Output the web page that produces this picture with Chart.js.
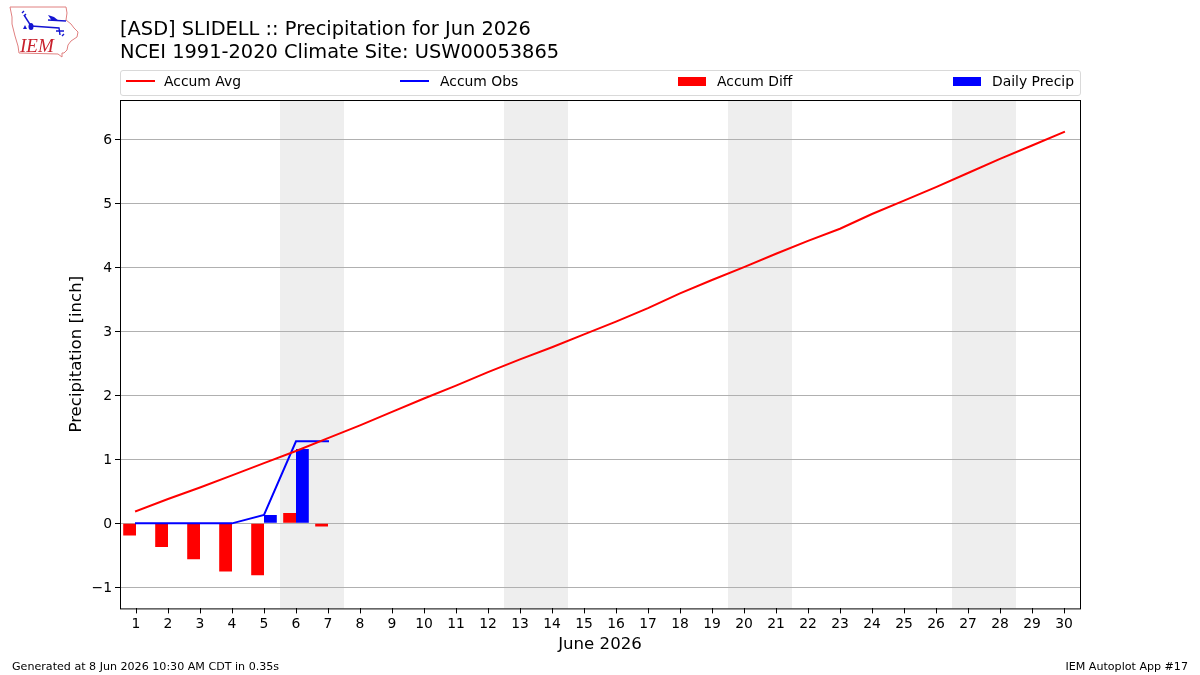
<!DOCTYPE html>
<html>
<head>
<meta charset="utf-8">
<title>Precipitation for Jun 2026</title>
<script src="https://cdn.jsdelivr.net/npm/chart.js@4"></script>
<style>
    html, body { margin: 0; padding: 0; background: #fff; }
    body { width: 1200px; height: 675px; position: relative; overflow: hidden; font-family: "DejaVu Sans", sans-serif; color: #000; }
    #chartBox { position: absolute; left: 0; top: 0; width: 1200px; height: 675px; }
    #logo { position: absolute; left: 0; top: 0; }
    #legendBox { position: absolute; left: 120px; top: 70px; width: 959px; height: 24px; border: 1px solid #d9d9d9; border-radius: 3px; font-size: 13.9px; }
    .key { position: absolute; }
    .label { position: absolute; top: 2px; line-height: 17px; white-space: nowrap; color: #000; }
    .foot { position: absolute; top: 660px; font-size: 11.1px; line-height: 13px; white-space: nowrap; }
</style>
</head>
<body>
<div id="chartBox"><canvas id="precipChart" width="1200" height="675"></canvas></div>

<svg id="logo" width="90" height="62" viewBox="0 0 90 62">
    <path d="M10 7 L66 7 L67 13 L66 20 L71 24 L74 28 L78 32 L77 37 L71 41 L68 45 L67 50 L64 53 L62 53 L62 57 L58 54 L19 53 L18 46 L15 36 L12 24 L12 17 Z" fill="none" stroke="#e08080" stroke-width="1"/>
    <g fill="none" stroke="#1414d2" stroke-width="1.400">
        <path d="M31 26 L59 28 L60 35"/>
        <path d="M48 20 L66 21"/>
        <path d="M24 15 L31 26"/>
        <path d="M22 13 L24 11 M24 16 L26 14"/>
        <path d="M56 31 L64 31 M62 36 L64 34"/>
    </g>
    <ellipse cx="31" cy="26.500" rx="2.500" ry="3.500" fill="#1414d2"/>
    <path d="M48 15 L54 17 L59 21 L52 21 Z" fill="#1414d2"/>
    <path d="M23 29 L25 25 L27 29 Z" fill="#1414d2"/>
    <text x="20" y="52" font-family="Liberation Serif" font-style="italic" font-size="19" fill="#c8202c">IEM</text>
</svg>

<div id="legendBox"></div>
<div class="foot" style="left:12px">Generated at 8 Jun 2026 10:30 AM CDT in 0.35s</div>
<div class="foot" style="right:12px">IEM Autoplot App #17</div>

<script>
const days = ["1", "2", "3", "4", "5", "6", "7", "8", "9", "10", "11", "12", "13", "14", "15",
    "16", "17", "18", "19", "20", "21", "22", "23", "24", "25", "26", "27", "28", "29", "30"];
const accumAvg = [0.19, 0.38, 0.56, 0.75, 0.94, 1.13, 1.33, 1.53, 1.74, 1.95, 2.15, 2.36, 2.56, 2.75, 2.95,
    3.15, 3.36, 3.59, 3.80, 4.00, 4.21, 4.41, 4.60, 4.83, 5.04, 5.25, 5.47, 5.69, 5.90, 6.11];
const accumObs = [0, 0, 0, 0, 0.13, 1.28, 1.28];
const accumDiff = [-0.19, -0.37, -0.56, -0.75, -0.81, 0.16, -0.05];
const dailyPrecip = [0, 0, 0, 0, 0.13, 1.16, 0];
const weekendDays = ["6", "7", "13", "14", "20", "21", "27", "28"];
const yTicks = [-1, 0, 1, 2, 3, 4, 5, 6];
const titleLines = ["[ASD] SLIDELL :: Precipitation for Jun 2026", "NCEI 1991-2020 Climate Site: USW00053865"];

Chart.defaults.font.family = '"DejaVu Sans", sans-serif';
Chart.defaults.color = "#000";

// weekend bands go under the grid, the frame goes over everything
const bandsAndFrame = {
    id: "bandsAndFrame",
    beforeDraw(chart) {
        const { ctx, chartArea, scales } = chart;
        const half = (scales.x.getPixelForValue(1) - scales.x.getPixelForValue(0)) / 2;
        ctx.save();
        ctx.fillStyle = "#eeeeee";
        weekendDays.forEach(d => {
            const center = scales.x.getPixelForValue(days.indexOf(d));
            ctx.fillRect(center - half, chartArea.top, half * 2, chartArea.height);
        });
        ctx.restore();
    },
    afterDraw(chart) {
        const { ctx, chartArea } = chart;
        ctx.save();
        ctx.strokeStyle = "#000";
        ctx.lineWidth = 1;
        ctx.strokeRect(chartArea.left + 0.5, chartArea.top + 0.5, chartArea.width, chartArea.height);
        ctx.restore();
    }
};

const chart = new Chart(document.getElementById("precipChart"), {
    type: "bar",
    data: {
        labels: days,
        datasets: [
            { type: "line", label: "Accum Avg", data: accumAvg, borderColor: "#ff0000", borderWidth: 2, borderCapStyle: "square", pointRadius: 0, tension: 0, order: 1 },
            { type: "line", label: "Accum Obs", data: accumObs, borderColor: "#0000ff", borderWidth: 2, borderCapStyle: "square", pointRadius: 0, tension: 0, order: 2 },
            { label: "Accum Diff", data: accumDiff, backgroundColor: "#ff0000", order: 3 },
            { label: "Daily Precip", data: dailyPrecip, backgroundColor: "#0000ff", order: 4 }
        ]
    },
    options: {
        responsive: false,
        animation: false,
        layout: { padding: { left: 67, right: 120, top: 0, bottom: 19 } },
        datasets: { bar: { categoryPercentage: 0.8, barPercentage: 1 } },
        plugins: {
            legend: { display: false },
            tooltip: { enabled: false },
            title: {
                display: true,
                text: titleLines,
                align: "start",
                fullSize: false,
                font: { size: 19.4, weight: "normal", lineHeight: 1.16 },
                padding: { top: 19, bottom: 36 }
            }
        },
        scales: {
            x: {
                offset: true,
                afterFit(axis) { axis.height -= 1; },
                title: { display: true, text: "June 2026", font: { size: 16.6 }, padding: { top: 0, bottom: 1 } },
                grid: { offset: false, drawOnChartArea: false, drawTicks: true, tickLength: 5, tickColor: "#000" },
                border: { display: false },
                ticks: { autoSkip: false, maxRotation: 0, font: { size: 13.9 }, padding: 3 }
            },
            y: {
                min: -1.328,
                max: 6.61,
                afterBuildTicks(axis) { axis.ticks = yTicks.map(v => ({ value: v })); },
                afterFit(axis) { axis.width = 53; },
                title: { display: true, text: "Precipitation [inch]", font: { size: 16.6 }, padding: { top: 0, bottom: 4 } },
                grid: { color: "#b0b0b0", lineWidth: 1, tickLength: 5, tickColor: "#000" },
                border: { display: false },
                ticks: { font: { size: 13.9 }, padding: 3, labelOffset: 1, callback: v => (v < 0 ? "\u2212" + Math.abs(v) : String(v)) }
            }
        }
    },
    plugins: [bandsAndFrame]
});

// horizontal legend spread over the full plot width
const legendSlots = [
    { left: 5, text: 43 },
    { left: 279, text: 319 },
    { left: 557, text: 596 },
    { left: 832, text: 871 }
];
const legendBox = document.getElementById("legendBox");
chart.data.datasets.forEach((ds, i) => {
    const key = document.createElement("div");
    key.className = "key";
    key.style.left = legendSlots[i].left + "px";
    if (ds.type === "line") {
        key.style.width = "29px";
        key.style.top = "9px";
        key.style.height = "2px";
        key.style.background = ds.borderColor;
    } else {
        key.style.width = "28px";
        key.style.top = "6px";
        key.style.height = "9px";
        key.style.background = ds.backgroundColor;
    }
    const label = document.createElement("div");
    label.className = "label";
    label.style.left = legendSlots[i].text + "px";
    label.textContent = ds.label;
    legendBox.append(key, label);
});
</script>
</body>
</html>
